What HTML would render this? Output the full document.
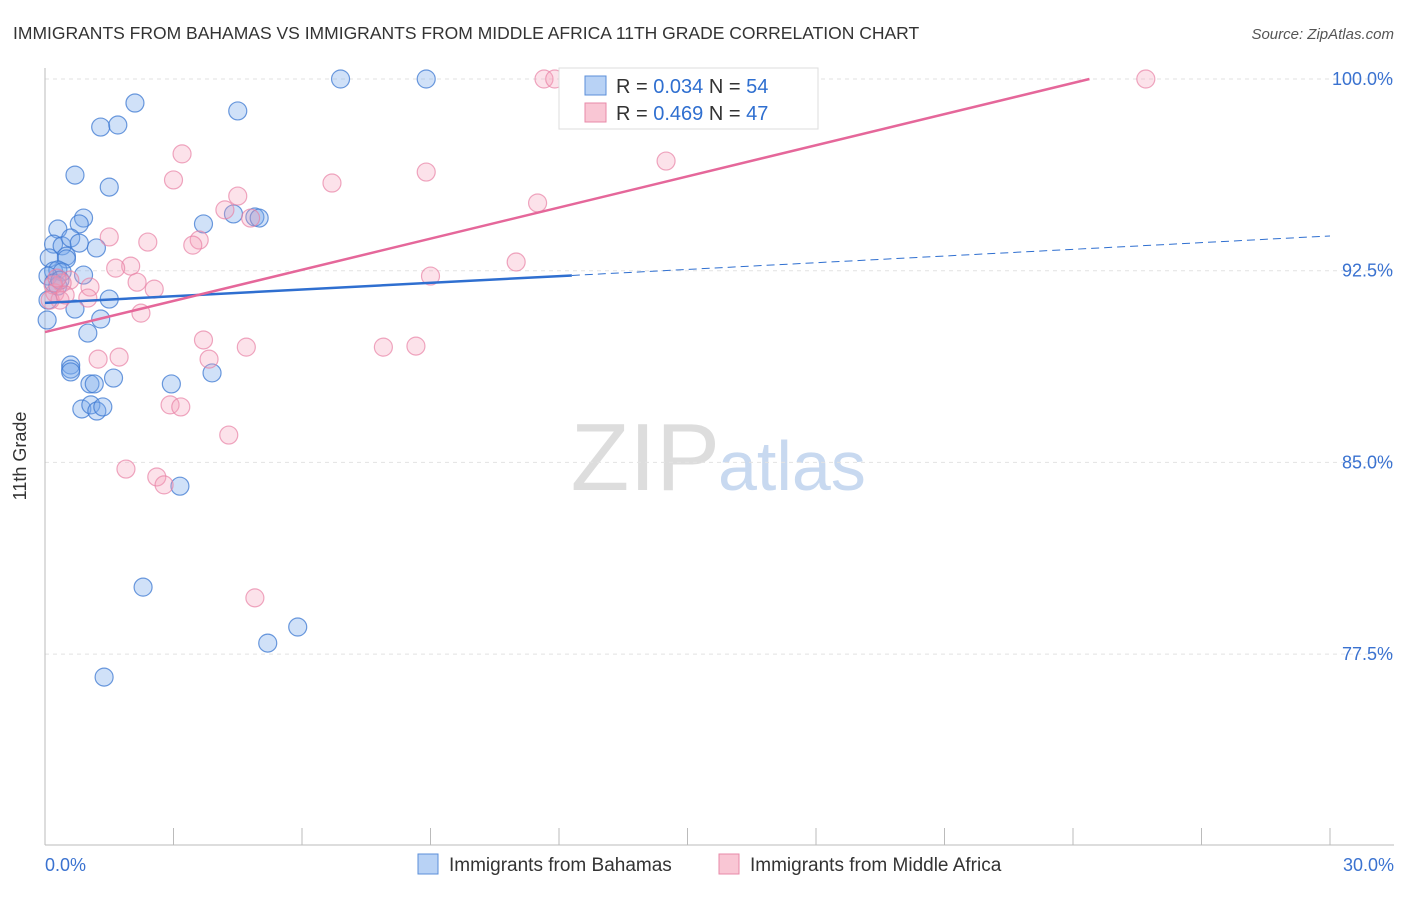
<!DOCTYPE html>
<html><head><meta charset="utf-8"><style>
body{margin:0;background:#fff;font-family:"Liberation Sans",sans-serif;}
svg text{font-family:"Liberation Sans",sans-serif;}
</style></head><body>
<svg id="chart" width="1406" height="892" xmlns="http://www.w3.org/2000/svg">
<text x="13" y="39" font-size="17.5" fill="#333">IMMIGRANTS FROM BAHAMAS VS IMMIGRANTS FROM MIDDLE AFRICA 11TH GRADE CORRELATION CHART</text>
<text x="1394" y="39" font-size="15" fill="#555" text-anchor="end" font-style="italic">Source: ZipAtlas.com</text>
<text x="720" y="490" font-size="96" fill="#ddd" text-anchor="end" font-family="Liberation Serif,serif">ZIP</text>
<text x="718" y="490" font-size="70" fill="#c8d9f0">atlas</text>
<g id="grid"></g><g id="axes"></g><g id="pts"></g><g id="lines"></g>
<text x="26" y="456" font-size="18" fill="#333" text-anchor="middle" transform="rotate(-90 26 456)">11th Grade</text>
<g>
<rect x="559" y="68" width="259" height="61" fill="#fff" stroke="#ddd"/>
<rect x="585" y="76" width="21" height="19" fill="#b8d2f5" stroke="#5b8fd9"/>
<text x="616" y="93" font-size="20" fill="#333">R = <tspan fill="#2f6fd0">0.034</tspan>   N = <tspan fill="#2f6fd0">54</tspan></text>
<rect x="585" y="103" width="21" height="19" fill="#f9c6d4" stroke="#e88aa8"/>
<text x="616" y="120" font-size="20" fill="#333">R = <tspan fill="#2f6fd0">0.469</tspan>   N = <tspan fill="#2f6fd0">47</tspan></text>
</g>
<g>
<rect x="418" y="854" width="20" height="20" fill="#b8d2f5" stroke="#5b8fd9"/>
<text x="449" y="871" font-size="19" fill="#333">Immigrants from Bahamas</text>
<rect x="719" y="854" width="20" height="20" fill="#f9c6d4" stroke="#e88aa8"/>
<text x="750" y="871" font-size="19" fill="#333">Immigrants from Middle Africa</text>
</g>
</svg>
<script>
const xTicks=[0,3,6,9,12,15,18,21,24,27,30];
const yTicks=[77.5,85,92.5,100];
const yTickLabels=["77.5%","85.0%","92.5%","100.0%"];
const xEndLabels=["0.0%","30.0%"];
const blueX=[6.9,8.9,2.1,4.5,1.3,1.7,0.7,1.5,0.9,0.8,0.3,4.4,4.9,5.0,3.7,0.2,0.4,0.6,0.8,1.2,0.5,0.5,0.1,0.2,0.3,0.4,0.9,0.07,0.2,0.3,1.5,0.7,1.3,1.0,0.05,0.6,0.6,0.6,1.6,1.05,1.15,2.95,3.9,0.86,1.07,1.21,1.35,3.15,2.29,5.9,5.2,1.38,0.07,0.35];
const blueY=[100,100,99.06,98.75,98.12,98.2,96.24,95.77,94.56,94.33,94.13,94.72,94.6,94.56,94.33,93.54,93.47,93.78,93.58,93.39,93.07,92.96,93.0,92.49,92.53,92.45,92.33,92.29,92.02,91.9,91.39,91.0,90.61,90.06,90.57,88.81,88.65,88.54,88.3,88.07,88.07,88.07,88.5,87.09,87.25,87.01,87.17,84.07,80.12,78.56,77.93,76.6,91.35,92.13];
const pinkX=[11.65,11.9,25.7,3.2,14.5,3.0,8.9,6.7,4.5,11.5,4.2,4.8,1.5,2.4,3.6,3.45,2.0,1.65,11.0,9.0,2.15,2.55,1.05,0.58,0.4,0.23,0.35,1.0,2.24,3.7,4.7,1.24,1.73,3.83,7.9,8.66,2.92,3.17,4.29,1.89,2.61,2.78,4.9,0.19,0.28,0.12,0.47];
const pinkY=[100,100,100,97.07,96.79,96.05,96.36,95.93,95.42,95.15,94.88,94.56,93.82,93.62,93.7,93.5,92.68,92.6,92.84,92.29,92.05,91.78,91.86,92.13,92.02,91.63,91.35,91.43,90.84,89.79,89.51,89.04,89.12,89.04,89.51,89.55,87.25,87.17,86.07,84.74,84.43,84.12,79.7,91.94,92.21,91.35,91.55];
const blueFit=[91.24,93.86]; // value at x=0 and x=30
const pinkFit=[90.10,0.406]; // intercept, slope
const blueSolidEnd=12.3;
const NS="http://www.w3.org/2000/svg";
const X=v=>45+v/30*1285, Y=v=>79+(100-v)*25.56;
function mk(t,a,p){const e=document.createElementNS(NS,t);for(const k in a)e.setAttribute(k,a[k]);document.getElementById(p).appendChild(e);return e;}
yTicks.forEach((t,i)=>{
 const g=mk('line',{x1:45,x2:1394,y1:Y(t),y2:Y(t),stroke:'#e2e2e2','stroke-dasharray':'4,4'},'grid');
 
 
 const l=mk('text',{x:1393,y:Y(t)+6,'font-size':18,fill:'#3a72d0','text-anchor':'end'},'axes');
 l.textContent=yTickLabels[i];
 
 
});
mk('line',{x1:45,x2:45,y1:68,y2:845,stroke:'#bbb'},'axes');
const xl=mk('line',{x1:45,x2:1394,y1:845,y2:845,stroke:'#bbb'},'axes');


xTicks.forEach(t=>{const e=mk('line',{x1:X(t),x2:X(t),y1:828,y2:845,stroke:'#bbb'},'axes');
 
 });
[[0,'start',45],[30,'end',1394]].forEach((d,i)=>{const e=mk('text',{x:d[2],y:871,'font-size':18,fill:'#3a72d0','text-anchor':d[1]},'axes');e.textContent=xEndLabels[i];
 
 });
blueX.forEach((v,i)=>{const c=mk('circle',{cx:X(v),cy:Y(blueY[i]),r:9,fill:'rgba(120,170,235,0.35)',stroke:'rgba(60,120,210,0.75)','stroke-width':1.2},'pts');
 
 });
pinkX.forEach((v,i)=>{const c=mk('circle',{cx:X(v),cy:Y(pinkY[i]),r:9,fill:'rgba(245,160,185,0.3)',stroke:'rgba(232,130,165,0.7)','stroke-width':1.2},'pts');
 
 });
const bf=x=>blueFit[0]+(blueFit[1]-blueFit[0])*x/30;
const b1=mk('line',{x1:X(0),y1:Y(bf(0)),x2:X(blueSolidEnd),y2:Y(bf(blueSolidEnd)),stroke:'#2f6fd0','stroke-width':2.5},'lines');


const b2=mk('line',{x1:X(blueSolidEnd),y1:Y(bf(blueSolidEnd)),x2:X(30),y2:Y(bf(30)),stroke:'#2f6fd0','stroke-width':1,'stroke-dasharray':'8,5'},'lines');


const pEnd=Math.min(30,(100-pinkFit[0])/pinkFit[1]);
const p1=mk('line',{x1:X(0),y1:Y(pinkFit[0]),x2:X(pEnd),y2:Y(pinkFit[0]+pinkFit[1]*pEnd),stroke:'#e5679a','stroke-width':2.5},'lines');


</script>
</body></html>
